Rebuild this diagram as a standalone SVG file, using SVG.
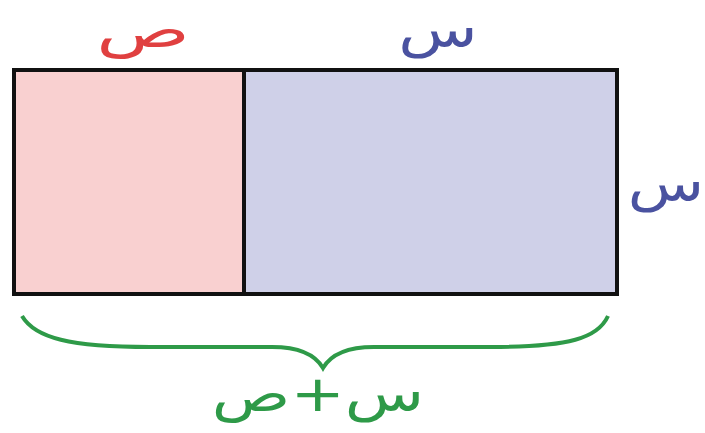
<svg xmlns="http://www.w3.org/2000/svg" width="705" height="433" viewBox="0 0 705 433">
<style>
.lbl{font-family:"DejaVu Sans",sans-serif;font-size:50px;text-anchor:middle;direction:rtl}
</style>
<rect width="705" height="433" fill="#fff"/>
<g id="left-part"><rect x="14" y="70" width="230" height="224" fill="#f9d0d0" stroke="#111" stroke-width="4"/></g>
<g id="right-part"><rect x="244" y="70" width="373" height="224" fill="#cfd0e8" stroke="#111" stroke-width="4"/></g>
<g id="connectors">
<path d="M22,316 C35,338 70,347 150,347 L272,347 C302,347 316,356 323,368 C330,356 344,347 374,347 L490,347 C570,347 598,338 608,316" fill="none" stroke="#2e9a48" stroke-width="4"/>
</g>
<g id="labels">
<text class="lbl" transform="translate(143,47) scale(1.55,1)" fill="#e04040">ص</text>
<text class="lbl" transform="translate(438,47) scale(1.3,1)" fill="#4a52a0">س</text>
<text class="lbl" transform="translate(666,201) scale(1.25,1)" fill="#4a52a0">س</text>
<text class="lbl" transform="translate(318,411) scale(1.3,1)" fill="#2e9a48">س+ص</text>
</g>
</svg>
